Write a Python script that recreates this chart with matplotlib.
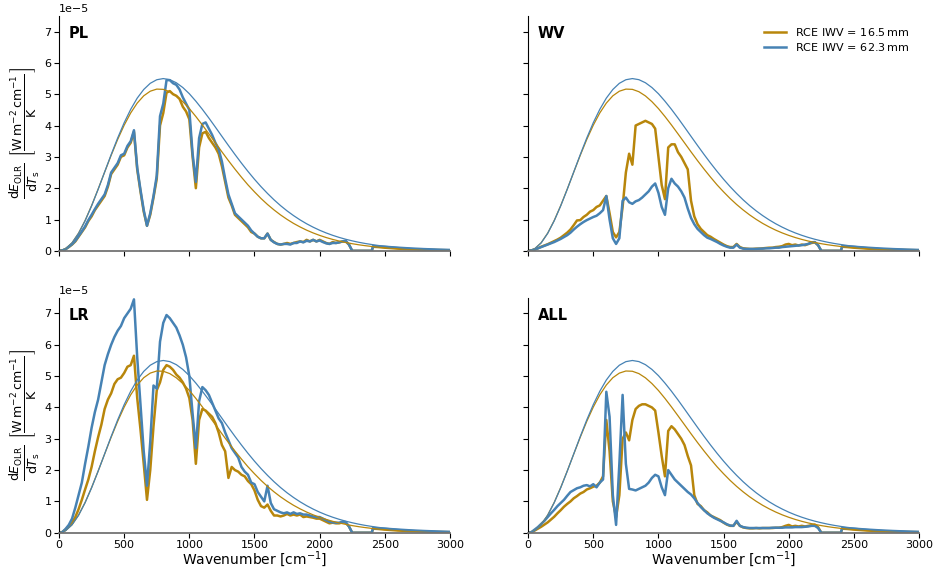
import numpy as np
import matplotlib
matplotlib.use('Agg')
import matplotlib.pyplot as plt

# spectral grids [cm-1]
nu_planck = np.arange(0, 3001, 50)
nu_fb = np.arange(0, 2251, 25)
nu_tail = [2275, 2300, 2350, 2400, 2410, 2450, 2500, 2600, 2700, 2800, 2900, 3000]

# surface Planck derivative dB/dT (units of 1e-5)
planck_dry = [0, 0.065, 0.257, 0.564, 0.967, 1.444, 1.968, 2.512, 3.049, 3.556,
              4.011, 4.402, 4.716, 4.949, 5.096, 5.163, 5.155, 5.080, 4.946, 4.762,
              4.541, 4.288, 4.017, 3.734, 3.448, 3.160, 2.879, 2.609, 2.351, 2.105,
              1.882, 1.671, 1.479, 1.305, 1.146, 1.004, 0.875, 0.762, 0.660, 0.571,
              0.493, 0.424, 0.364, 0.312, 0.267, 0.227, 0.193, 0.164, 0.139, 0.118,
              0.100, 0.084, 0.071, 0.060, 0.050, 0.042, 0.035, 0.030, 0.025, 0.021,
              0.017]
planck_moist = [0, 0.064, 0.253, 0.557, 0.958, 1.435, 1.963, 2.517, 3.071, 3.602,
                4.090, 4.517, 4.875, 5.151, 5.348, 5.462, 5.499, 5.464, 5.366, 5.213,
                5.015, 4.777, 4.517, 4.239, 3.949, 3.655, 3.363, 3.077, 2.800, 2.535,
                2.284, 2.049, 1.831, 1.628, 1.443, 1.275, 1.124, 0.987, 0.864, 0.755,
                0.657, 0.571, 0.495, 0.428, 0.369, 0.318, 0.273, 0.234, 0.201, 0.171,
                0.146, 0.125, 0.106, 0.090, 0.076, 0.065, 0.055, 0.046, 0.039, 0.033,
                0.028]

# window region above 2250 cm-1, same for every feedback
tail_dry = [0, 0, 0, 0, 0.13, 0.12, 0.10, 0.07, 0.05, 0.035, 0.025, 0.017]
tail_moist = [0, 0, 0, 0, 0.15, 0.14, 0.13, 0.10, 0.075, 0.055, 0.04, 0.028]

# spectral feedbacks on nu_fb (units of 1e-5)
pl_dry = [0, 0.01, 0.05, 0.12, 0.2, 0.3, 0.45, 0.6, 0.75, 0.95,
          1.1, 1.3, 1.45, 1.6, 1.75, 2.05, 2.45, 2.6, 2.75, 3.0,
          3.05, 3.3, 3.45, 3.8, 2.6, 1.9, 1.25, 0.8, 1.15, 1.7,
          2.3, 4.0, 4.4, 5.05, 5.1, 5.0, 4.95, 4.85, 4.6, 4.45,
          4.2, 3.0, 2.0, 3.3, 3.75, 3.8, 3.6, 3.45, 3.3, 3.1,
          2.7, 2.2, 1.7, 1.45, 1.15, 1.05, 0.95, 0.85, 0.75, 0.6,
          0.55, 0.45, 0.4, 0.4, 0.55, 0.35, 0.28, 0.22, 0.2, 0.22,
          0.25, 0.22, 0.25, 0.28, 0.3, 0.28, 0.35, 0.3, 0.35, 0.3,
          0.35, 0.3, 0.25, 0.22, 0.28, 0.25, 0.27, 0.3, 0.3, 0.2,
          0]
pl_moist = [0, 0.01, 0.05, 0.13, 0.21, 0.32, 0.47, 0.62, 0.78, 0.98,
            1.15, 1.33, 1.5, 1.65, 1.8, 2.1, 2.5, 2.65, 2.8, 3.05,
            3.1, 3.35, 3.5, 3.85, 2.65, 1.95, 1.3, 0.8, 1.2, 1.75,
            2.4, 4.3, 4.7, 5.45, 5.45, 5.35, 5.3, 5.15, 4.9, 4.7,
            4.5, 3.1, 2.2, 3.6, 4.05, 4.1, 3.9, 3.7, 3.45, 3.25,
            2.85, 2.3, 1.8, 1.5, 1.2, 1.1, 1.0, 0.9, 0.8, 0.65,
            0.55, 0.45, 0.4, 0.4, 0.55, 0.35, 0.27, 0.22, 0.2, 0.22,
            0.22, 0.2, 0.25, 0.25, 0.3, 0.27, 0.32, 0.3, 0.35, 0.3,
            0.33, 0.28, 0.24, 0.22, 0.25, 0.25, 0.27, 0.3, 0.32, 0.2,
            0]
wv_dry = [0, 0.01, 0.04, 0.08, 0.13, 0.17, 0.21, 0.26, 0.31, 0.36,
          0.42, 0.5, 0.58, 0.68, 0.82, 0.97, 0.98, 1.08, 1.15, 1.25,
          1.3, 1.4, 1.45, 1.6, 1.75, 1.2, 0.6, 0.43, 0.6, 1.4,
          2.5, 3.1, 2.75, 4.0, 4.05, 4.1, 4.15, 4.1, 4.05, 3.9,
          3.0, 2.1, 1.65, 3.3, 3.4, 3.4, 3.15, 3.0, 2.8, 2.6,
          1.6, 1.1, 0.85, 0.7, 0.6, 0.5, 0.45, 0.38, 0.32, 0.26,
          0.2, 0.15, 0.12, 0.12, 0.22, 0.12, 0.08, 0.07, 0.06, 0.06,
          0.07, 0.07, 0.08, 0.09, 0.1, 0.1, 0.12, 0.13, 0.15, 0.2,
          0.22, 0.18, 0.2, 0.17, 0.2, 0.18, 0.22, 0.25, 0.27, 0.18,
          0]
wv_moist = [0, 0.01, 0.04, 0.08, 0.12, 0.16, 0.2, 0.24, 0.28, 0.33,
            0.38, 0.44, 0.5, 0.58, 0.68, 0.77, 0.85, 0.92, 0.98, 1.03,
            1.08, 1.12, 1.2, 1.3, 1.75, 1.0, 0.4, 0.22, 0.4, 1.6,
            1.7, 1.55, 1.5, 1.58, 1.62, 1.7, 1.8, 1.9, 2.05, 2.15,
            1.85, 1.4, 1.15, 2.0, 2.3, 2.15, 2.05, 1.9, 1.7, 1.35,
            1.05, 0.85, 0.7, 0.6, 0.5, 0.42, 0.38, 0.33, 0.28, 0.22,
            0.17, 0.13, 0.1, 0.1, 0.2, 0.1, 0.07, 0.06, 0.06, 0.06,
            0.06, 0.07, 0.07, 0.08, 0.08, 0.09, 0.1, 0.1, 0.12, 0.13,
            0.14, 0.15, 0.16, 0.17, 0.18, 0.2, 0.22, 0.27, 0.28, 0.18,
            0]
lr_dry = [0, 0.02, 0.1, 0.2, 0.32, 0.5, 0.75, 1.05, 1.38, 1.7,
          2.1, 2.6, 3.05, 3.45, 3.95, 4.25, 4.45, 4.75, 4.9, 4.95,
          5.1, 5.3, 5.35, 5.65, 4.3, 3.3, 2.2, 1.05, 2.0, 3.4,
          4.55, 4.8, 5.2, 5.35, 5.3, 5.2, 5.05, 4.95, 4.8, 4.6,
          4.3, 3.6, 2.2, 3.6, 3.95, 3.9, 3.8, 3.7, 3.5, 3.2,
          2.8, 2.6, 1.75, 2.1, 2.0, 1.95, 1.85, 1.8, 1.65, 1.55,
          1.35, 1.05, 0.85, 0.8, 0.9, 0.7, 0.55, 0.55, 0.52, 0.55,
          0.6, 0.55, 0.58, 0.55, 0.58, 0.5, 0.52, 0.5, 0.48, 0.45,
          0.45, 0.4, 0.35, 0.3, 0.32, 0.3, 0.3, 0.33, 0.32, 0.2,
          0]
lr_moist = [0, 0.02, 0.12, 0.25, 0.45, 0.8, 1.2, 1.6, 2.2, 2.75,
            3.35, 3.85, 4.25, 4.8, 5.35, 5.7, 6.0, 6.25, 6.45, 6.6,
            6.85, 7.0, 7.15, 7.45, 5.6, 4.1, 2.6, 1.5, 2.9, 4.7,
            4.6, 6.1, 6.7, 6.95, 6.85, 6.7, 6.55, 6.3, 6.0, 5.6,
            5.0, 3.8, 2.7, 4.2, 4.65, 4.55, 4.4, 4.15, 3.9, 3.65,
            3.5, 3.2, 2.95, 2.7, 2.55, 2.4, 2.1, 1.95, 1.85, 1.6,
            1.55, 1.3, 1.15, 1.0, 1.5, 0.95, 0.75, 0.7, 0.65, 0.62,
            0.65, 0.6, 0.65, 0.6, 0.62, 0.58, 0.58, 0.55, 0.52, 0.5,
            0.5, 0.45, 0.4, 0.35, 0.33, 0.32, 0.32, 0.35, 0.34, 0.2,
            0]
all_dry = [0, 0.01, 0.07, 0.13, 0.19, 0.26, 0.33, 0.42, 0.51, 0.62,
           0.72, 0.83, 0.92, 1.0, 1.1, 1.17, 1.25, 1.3, 1.38, 1.42,
           1.47, 1.5, 1.6, 1.8, 3.6, 2.6, 1.0, 0.5, 1.2, 3.0,
           3.2, 2.95, 3.6, 3.95, 4.05, 4.1, 4.1, 4.05, 4.0, 3.9,
           3.2, 2.45, 1.8, 3.25, 3.4, 3.3, 3.15, 3.0, 2.8, 2.45,
           2.15, 1.2, 0.92, 0.85, 0.72, 0.65, 0.55, 0.5, 0.45, 0.4,
           0.32, 0.26, 0.22, 0.22, 0.35, 0.22, 0.17, 0.15, 0.14, 0.14,
           0.15, 0.14, 0.15, 0.15, 0.15, 0.15, 0.16, 0.16, 0.18, 0.22,
           0.25, 0.2, 0.22, 0.2, 0.22, 0.2, 0.22, 0.24, 0.26, 0.18,
           0]
all_moist = [0, 0.02, 0.1, 0.18, 0.28, 0.38, 0.5, 0.62, 0.73, 0.85,
             0.95, 1.05, 1.18, 1.3, 1.36, 1.42, 1.45, 1.5, 1.52, 1.48,
             1.55, 1.45, 1.6, 1.7, 4.5, 3.7, 1.2, 0.25, 2.2, 4.4,
             2.2, 1.4, 1.38, 1.35, 1.4, 1.45, 1.5, 1.6, 1.75, 1.85,
             1.8, 1.45, 1.2, 2.0, 1.85, 1.7, 1.6, 1.5, 1.4, 1.3,
             1.22, 1.1, 0.95, 0.82, 0.72, 0.62, 0.55, 0.48, 0.43, 0.38,
             0.33, 0.27, 0.23, 0.22, 0.38, 0.22, 0.18, 0.16, 0.15, 0.15,
             0.15, 0.15, 0.15, 0.15, 0.15, 0.16, 0.16, 0.16, 0.16, 0.17,
             0.17, 0.17, 0.18, 0.18, 0.18, 0.19, 0.2, 0.22, 0.22, 0.15,
             0]

panels = [('PL', pl_dry, pl_moist), ('WV', wv_dry, wv_moist),
          ('LR', lr_dry, lr_moist), ('ALL', all_dry, all_moist)]
labels = [r'RCE IWV$\,=\,$16.5$\,$mm', r'RCE IWV$\,=\,$62.3$\,$mm']
c_dry = '#b8860b'
c_moist = '#4682b4'

fig, axes = plt.subplots(2, 2, figsize=(9.34, 5.68), dpi=100, sharex=True, sharey=True)
fig.subplots_adjust(left=0.0632, right=0.984, bottom=0.0621, top=0.972,
                    hspace=0.2, wspace=0.2)

nu_full = np.concatenate([nu_fb, nu_tail])
for ax, (name, dry, moist) in zip(axes.flat, panels):
    ax.plot(nu_full, np.concatenate([dry, tail_dry]) * 1e-5, color=c_dry, lw=1.8,
            label=labels[0])
    ax.plot(nu_full, np.concatenate([moist, tail_moist]) * 1e-5, color=c_moist, lw=1.8,
            label=labels[1])
    ax.plot(nu_planck, np.array(planck_dry) * 1e-5, color=c_dry, lw=0.9)
    ax.plot(nu_planck, np.array(planck_moist) * 1e-5, color=c_moist, lw=0.9)
    ax.text(0.025, 0.925, name, transform=ax.transAxes, fontsize=10.5,
            fontweight='bold', va='center', ha='left')
    ax.spines['top'].set_visible(False)
    ax.spines['right'].set_visible(False)
    ax.spines['bottom'].set_color('0.45')
    ax.spines['bottom'].set_linewidth(1.3)
    ax.tick_params(labelsize=8, length=3.5, pad=2)
    ax.yaxis.get_offset_text().set_fontsize(8)

ax0 = axes[0, 0]
ax0.set_xlim(0, 3000)
ax0.set_ylim(0, 7.5e-5)
ax0.set_xticks(np.arange(0, 3001, 500))
ax0.set_yticks(np.arange(0, 8e-5, 1e-5))

ylab = (r'$\frac{\mathrm{d}E_{\mathrm{OLR}}}{\mathrm{d}T_{\mathrm{s}}}\ '
        r'\left[\frac{\mathrm{W\,m^{-2}\,cm^{-1}}}{\mathrm{K}}\right]$')
for ax in axes[:, 0]:
    ax.set_ylabel(ylab, fontsize=13)
    ax.yaxis.set_label_coords(-0.044, 0.5)
for ax in axes[1, :]:
    ax.set_xlabel(r'Wavenumber [cm$^{-1}$]', fontsize=10, va='top')
    ax.xaxis.set_label_coords(0.5, -0.0705)

axes[0, 1].legend(loc='upper right', frameon=False, fontsize=8,
                  handlelength=2.0, labelspacing=0.3)

plt.savefig('out.png', dpi=100)
